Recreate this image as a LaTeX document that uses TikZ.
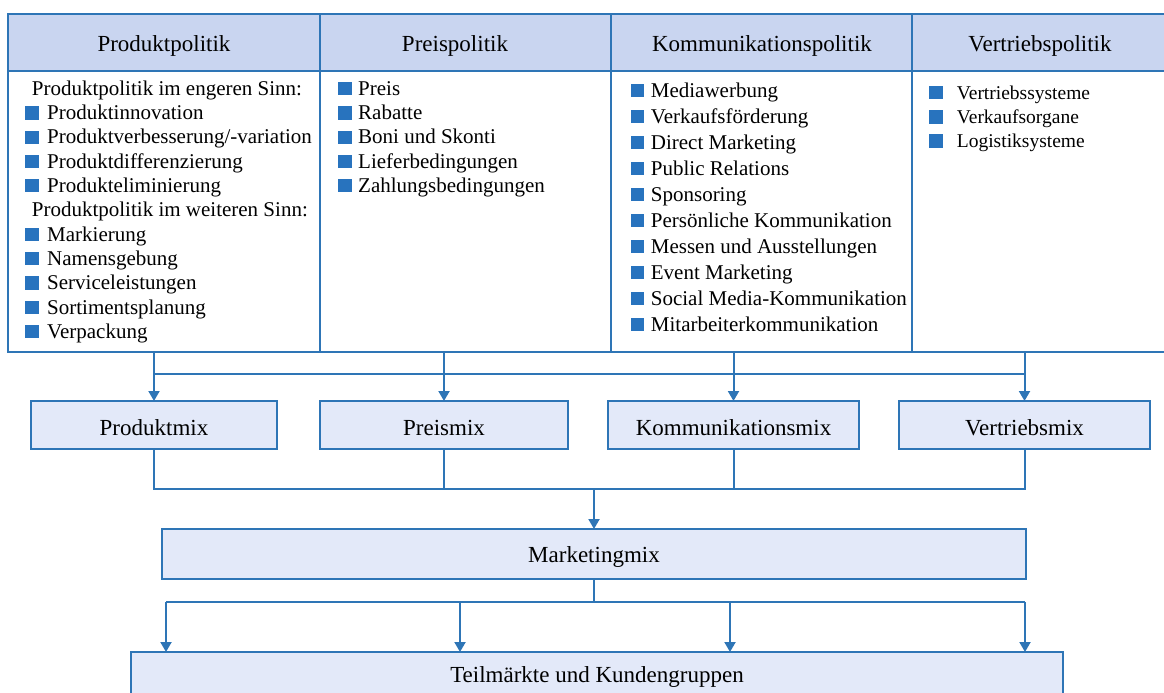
\documentclass[tikz,border=0pt]{standalone}
\usepackage{fontspec}
\setmainfont{Liberation Serif}
\usetikzlibrary{arrows.meta}
\definecolor{lineblue}{RGB}{46,117,182}
\definecolor{headfill}{RGB}{201,213,240}
\definecolor{boxfill}{RGB}{227,233,249}
\definecolor{bulletblue}{RGB}{40,115,190}
\tikzset{
  cell/.style={draw=lineblue, line width=2pt, inner sep=0pt, outer sep=0pt, anchor=north west},
  headcell/.style={cell, fill=headfill},
  bodycell/.style={cell, fill=white},
  headtxt/.style={anchor=base, inner sep=0pt, font=\fontsize{23}{26}\selectfont},
  itemtxt/.style={anchor=base west, inner sep=0pt, font=\fontsize{21}{24}\selectfont},
  smalltxt/.style={anchor=base west, inner sep=0pt, font=\fontsize{19.5}{22}\selectfont},
  bulletsq/.style={fill=bulletblue},
  mixbox/.style={draw=lineblue, line width=2pt, fill=boxfill, inner sep=0pt, outer sep=0pt,
    font=\fontsize{23}{26}\selectfont, text depth=0pt},
  conn/.style={draw=lineblue, line width=2pt},
  arr/.style={conn, -{Triangle[width=11pt,length=10pt]}}
}
\begin{document}
\begin{tikzpicture}[x=1pt,y=-1pt]
\useasboundingbox (0,0) rectangle (1164,693);
\clip (0,0) rectangle (1164,693);

% header row
\node[headcell, minimum width=312pt, minimum height=57pt] (h1) at (8,14) {};
\node[headcell, minimum width=291pt, minimum height=57pt] (h2) at (320,14) {};
\node[headcell, minimum width=301pt, minimum height=57pt] (h3) at (611,14) {};
\node[headcell, minimum width=258pt, minimum height=57pt] (h4) at (912,14) {};
\node[headtxt] (ht1) at (164,51.7) {Produktpolitik};
\node[headtxt] (ht2) at (455,51.7) {Preispolitik};
\node[headtxt] (ht3) at (762,51.7) {Kommunikationspolitik};
\node[headtxt] (ht4) at (1040,51.7) {Vertriebspolitik};

% body row
\node[bodycell, minimum width=312pt, minimum height=281pt] (b1) at (8,71) {};
\node[bodycell, minimum width=291pt, minimum height=281pt] (b2) at (320,71) {};
\node[bodycell, minimum width=301pt, minimum height=281pt] (b3) at (611,71) {};
\node[bodycell, minimum width=258pt, minimum height=281pt] (b4) at (912,71) {};

% column 1
\node[itemtxt] (c1a) at (31.7,95) {Produktpolitik im engeren Sinn:};
\node[itemtxt] (c1b) at (31.7,216.6) {Produktpolitik im weiteren Sinn:};
\foreach \yy/\tt [count=\i] in {119.5/{Produktinnovation}, 143.8/{Produktverbesserung/-variation},
  168/{Produktdifferenzierung}, 192.3/{Produkteliminierung}, 241/{Markierung}, 265.3/{Namensgebung},
  289.6/{Serviceleistungen}, 314/{Sortimentsplanung}, 338.3/{Verpackung}}{
  \fill[bulletsq] (25,\yy-13.3) rectangle (39,\yy);
  \node[itemtxt] (p\i) at (47,\yy) {\tt};
}
% column 2
\foreach \yy/\tt [count=\i] in {95/Preis, 119.5/Rabatte, 143.8/Boni und Skonti,
  168/Lieferbedingungen, 192.3/Zahlungsbedingungen}{
  \fill[bulletsq] (338,\yy-13.3) rectangle (352,\yy);
  \node[itemtxt] (r\i) at (358,\yy) {\tt};
}
% column 3
\foreach \yy/\tt [count=\i] in {97/Mediawerbung, 123/Verkaufsförderung, 149/Direct Marketing,
  175/Public Relations, 201/Sponsoring, 227/Persönliche Kommunikation,
  253/Messen und Ausstellungen, 279/Event Marketing, 305/Social Media-Kommunikation,
  331/Mitarbeiterkommunikation}{
  \fill[bulletsq] (630.7,\yy-13.3) rectangle (644.3,\yy);
  \node[itemtxt] (k\i) at (650.7,\yy) {\tt};
}
% column 4
\foreach \yy/\tt [count=\i] in {99.3/Vertriebssysteme, 123.5/Verkaufsorgane, 147.7/Logistiksysteme}{
  \fill[bulletsq] (929.3,\yy-13.3) rectangle (943.3,\yy);
  \node[smalltxt] (v\i) at (956.7,\yy) {\tt};
}

% mix boxes
\node[mixbox, minimum width=246pt, minimum height=48pt, text height=20pt] (pmix) at (154,425) {Produktmix};
\node[mixbox, minimum width=248pt, minimum height=48pt, text height=20pt] (rmix) at (444,425) {Preismix};
\node[mixbox, minimum width=251pt, minimum height=48pt, text height=20pt] (kmix) at (733.5,425) {Kommunikationsmix};
\node[mixbox, minimum width=251pt, minimum height=48pt, text height=20pt] (vmix) at (1024.5,425) {Vertriebsmix};

\node[mixbox, minimum width=864pt, minimum height=50pt, text height=17.4pt] (mkt) at (594,554) {Marketingmix};
\node[mixbox, minimum width=932pt, minimum height=60pt, text height=0pt] (tk) at (597,682) {Teilmärkte und Kundengruppen};

% connectors top
\coordinate (bus1) at (0,374);
\coordinate (bus2) at (0,489);
\coordinate (bus3) at (0,602);
\draw[conn] (pmix.north |- bus1) -- (vmix.north |- bus1);
\foreach \m in {pmix,rmix,kmix,vmix}{
  \draw[arr] (\m.north |- b1.south) -- (\m.north);
}
% mixes to marketingmix
\draw[conn] (pmix.south) -- (pmix.south |- bus2) -- (vmix.south |- bus2) -- (vmix.south);
\draw[conn] (rmix.south) -- (rmix.south |- bus2);
\draw[conn] (kmix.south) -- (kmix.south |- bus2);
\draw[arr] (mkt.north |- bus2) -- (mkt.north);

% marketingmix to Teilmaerkte
\coordinate (d1) at (166,602);
\coordinate (d2) at (460,602);
\coordinate (d3) at (730,602);
\coordinate (d4) at (1025,602);
\draw[conn] (mkt.south) -- (mkt.south |- bus3);
\draw[conn] (d1) -- (d4);
\foreach \d in {d1,d2,d3,d4}{
  \draw[arr] (\d) -- (\d |- tk.north);
}
\end{tikzpicture}
\end{document}
